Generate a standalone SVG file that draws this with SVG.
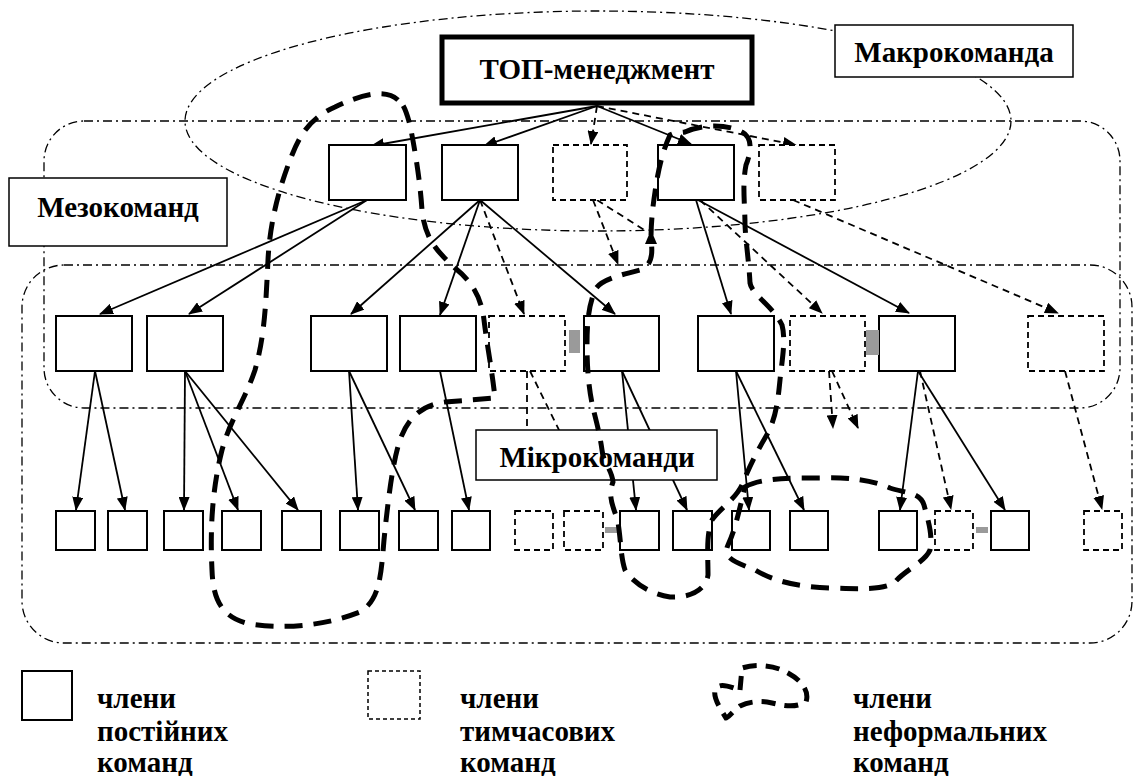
<svg xmlns="http://www.w3.org/2000/svg" width="1137" height="776" viewBox="0 0 1137 776">
<defs>
<style>
.sb{fill:#fff;stroke:#000;stroke-width:2}
.db{fill:#fff;stroke:#000;stroke-width:1.8;stroke-dasharray:6 4}
.dd{fill:none;stroke:#000;stroke-width:1.3;stroke-dasharray:9 4 2 4}
.ar{fill:none;stroke:#000;stroke-width:1.8;marker-end:url(#ah)}
.ard{fill:none;stroke:#000;stroke-width:1.8;stroke-dasharray:7 5;marker-end:url(#ah)}
.ln{fill:none;stroke:#000;stroke-width:1.8;stroke-dasharray:7 5}
.inf{fill:none;stroke:#000;stroke-width:5;stroke-dasharray:18 11;stroke-linecap:butt}
.lbl{fill:#fff;stroke:#000;stroke-width:1.5}
.t{font-family:"Liberation Serif","DejaVu Serif",serif;font-weight:bold;font-size:29px;fill:#000}
.lg{font-family:"Liberation Serif","DejaVu Serif",serif;font-weight:bold;font-size:29px;fill:#000}
.gr{fill:#9a9a9a}
</style>
<marker id="ah" viewBox="0 0 14 11" refX="13" refY="5.5" markerWidth="14" markerHeight="11" markerUnits="userSpaceOnUse" orient="auto"><path d="M0,0 L14,5.5 L0,11 z" fill="#000"/></marker>
</defs>
<rect width="1137" height="776" fill="#fff"/>

<g id="regions">
<ellipse class="dd" cx="598" cy="121" rx="413" ry="110"/>
<rect class="dd" x="44" y="121" width="1076" height="287" rx="40" ry="40"/>
<rect class="dd" x="22" y="265" width="1110" height="378" rx="42" ry="42"/>
</g>

<g id="connectors">
<line class="ar" x1="597" y1="106" x2="371" y2="146"/>
<line class="ar" x1="597" y1="106" x2="484" y2="146"/>
<line class="ard" x1="597" y1="106" x2="591" y2="144"/>
<line class="ar" x1="597" y1="106" x2="691" y2="144"/>
<line class="ard" x1="597" y1="106" x2="796" y2="145"/>
<line class="ar" x1="367" y1="200" x2="100" y2="314"/>
<line class="ar" x1="367" y1="200" x2="189" y2="314"/>
<line class="ar" x1="480" y1="200" x2="351" y2="314"/>
<line class="ar" x1="480" y1="200" x2="440" y2="315"/>
<line class="ard" x1="480" y1="200" x2="524" y2="314"/>
<line class="ar" x1="480" y1="200" x2="615" y2="314"/>
<line class="ard" x1="593" y1="200" x2="618" y2="264"/>
<line class="ln" x1="597" y1="200" x2="646" y2="231"/>
<line class="ar" x1="696" y1="200" x2="731" y2="314"/>
<line class="ard" x1="700" y1="200" x2="822" y2="313"/>
<line class="ar" x1="698" y1="200" x2="909" y2="313"/>
<line class="ard" x1="793" y1="200" x2="1058" y2="313"/>
<line class="ar" x1="95" y1="371" x2="76" y2="510"/>
<line class="ar" x1="95" y1="371" x2="125" y2="510"/>
<line class="ar" x1="185" y1="371" x2="184" y2="510"/>
<line class="ar" x1="185" y1="371" x2="238" y2="510"/>
<line class="ar" x1="185" y1="371" x2="298" y2="510"/>
<line class="ar" x1="349" y1="371" x2="358" y2="510"/>
<line class="ar" x1="349" y1="371" x2="415" y2="510"/>
<line class="ar" x1="440" y1="371" x2="469" y2="510"/>
<line class="ln" x1="527" y1="371" x2="527" y2="432"/>
<line class="ln" x1="530" y1="371" x2="560" y2="432"/>
<line class="ar" x1="622" y1="371" x2="636" y2="510"/>
<line class="ar" x1="622" y1="371" x2="687" y2="510"/>
<line class="ar" x1="736" y1="371" x2="749" y2="510"/>
<line class="ar" x1="736" y1="371" x2="804" y2="510"/>
<line class="ard" x1="829" y1="371" x2="833" y2="428"/>
<line class="ard" x1="832" y1="371" x2="858" y2="428"/>
<line class="ar" x1="918" y1="371" x2="900" y2="510"/>
<line class="ard" x1="920" y1="371" x2="951" y2="509"/>
<line class="ar" x1="918" y1="371" x2="1005" y2="510"/>
<line class="ard" x1="1065" y1="371" x2="1102" y2="509"/>
</g>

<g id="top"><rect x="442" y="37" width="310" height="66" fill="#fff" stroke="#000" stroke-width="5"/><text class="t" x="597" y="79" text-anchor="middle">ТОП-менеджмент</text></g>

<g id="l1-a"><rect class="sb" x="329" y="145" width="77" height="55"/></g>
<g id="l1-b"><rect class="sb" x="442" y="145" width="76" height="55"/></g>
<g id="l1-c"><rect class="db" x="553" y="145" width="74" height="55"/></g>
<g id="l1-d"><rect class="sb" x="658" y="145" width="76" height="55"/></g>
<g id="l1-e"><rect class="db" x="759" y="145" width="76" height="55"/></g>

<g id="m1"><rect class="sb" x="56" y="316" width="76" height="55"/></g>
<g id="m2"><rect class="sb" x="147" y="316" width="76" height="55"/></g>
<g id="m3"><rect class="sb" x="311" y="316" width="76" height="55"/></g>
<g id="m4"><rect class="sb" x="400" y="316" width="76" height="55"/></g>
<g id="m5"><rect class="db" x="489" y="316" width="76" height="55"/></g>
<g id="m6"><rect class="sb" x="584" y="316" width="75" height="55"/></g>
<g id="m7"><rect class="sb" x="698" y="316" width="76" height="55"/></g>
<g id="m8"><rect class="db" x="790" y="316" width="75" height="55"/></g>
<g id="m9"><rect class="sb" x="879" y="316" width="76" height="55"/></g>
<g id="m10"><rect class="db" x="1028" y="316" width="76" height="55"/></g>

<g id="b1"><rect class="sb" x="56" y="511" width="39" height="39"/></g>
<g id="b2"><rect class="sb" x="108" y="511" width="39" height="39"/></g>
<g id="b3"><rect class="sb" x="164" y="511" width="39" height="39"/></g>
<g id="b4"><rect class="sb" x="222" y="511" width="39" height="39"/></g>
<g id="b5"><rect class="sb" x="282" y="511" width="39" height="39"/></g>
<g id="b6"><rect class="sb" x="340" y="511" width="39" height="39"/></g>
<g id="b7"><rect class="sb" x="399" y="511" width="39" height="39"/></g>
<g id="b8"><rect class="sb" x="452" y="511" width="38" height="39"/></g>
<g id="b9"><rect class="db" x="515" y="511" width="38" height="39"/></g>
<g id="b10"><rect class="db" x="564" y="511" width="39" height="39"/></g>
<g id="b11"><rect class="sb" x="620" y="511" width="39" height="39"/></g>
<g id="b12"><rect class="sb" x="673" y="511" width="39" height="39"/></g>
<g id="b13"><rect class="sb" x="732" y="511" width="38" height="39"/></g>
<g id="b14"><rect class="sb" x="790" y="511" width="38" height="39"/></g>
<g id="b15"><rect class="sb" x="879" y="511" width="38" height="39"/></g>
<g id="b16"><rect class="db" x="935" y="511" width="38" height="39"/></g>
<g id="b17"><rect class="sb" x="991" y="511" width="38" height="39"/></g>
<g id="b18"><rect class="db" x="1084" y="511" width="38" height="39"/></g>

<g id="artifacts">
<rect class="gr" x="569" y="330" width="11" height="23"/>
<rect class="gr" x="866" y="330" width="13" height="25"/>
<rect class="gr" x="605" y="527" width="12" height="6"/>
<rect class="gr" x="976" y="527" width="12" height="6"/>
</g>

<g id="label-makro"><rect class="lbl" x="835" y="25" width="238" height="52"/><text class="t" x="954" y="62" text-anchor="middle">Макрокоманда</text></g>
<g id="label-mezo"><rect class="lbl" x="9" y="178" width="218" height="68"/><text class="t" x="118" y="217" text-anchor="middle">Мезокоманд</text></g>
<g id="label-mikro"><rect class="lbl" x="476" y="430" width="241" height="50"/><text class="t" x="597" y="467" text-anchor="middle">Мікрокоманди</text></g>

<g id="informal-1"><path class="inf" d="M398,100 C385,88 360,95 335,107 C310,118 300,135 292,155 C280,185 270,220 268,260 C266,300 265,335 255,370 C245,400 230,420 222,450 C212,490 210,530 212,570 C213,600 222,618 250,624 C290,630 330,624 360,612 C380,600 381,575 384,540 C388,500 393,460 400,440 C407,420 420,405 445,402 L495,398 C492,370 487,345 484,320 C481,295 470,280 455,268 C438,252 425,240 422,210 C420,180 415,150 410,125 C406,110 403,103 398,100 Z"/></g>
<g id="informal-2"><path class="inf" d="M685,132 C700,125 725,123 742,132 C752,137 752,150 746,165 C742,185 745,205 745,225 C746,245 749,262 750,283 C752,295 772,305 782,325 C786,340 782,360 780,380 C778,400 776,420 765,438 C755,455 748,470 742,485 C735,500 718,510 712,520 C706,535 708,555 708,575 C706,590 690,598 670,597 C650,594 632,582 625,570 C620,555 621,535 617,518 C612,505 608,495 613,482 C612,470 603,462 602,450 C600,435 596,420 593,408 C589,390 587,370 587,345 C587,320 589,305 595,290 C600,280 620,275 640,270 C652,265 653,255 651,240 C651,225 652,212 655,192 C658,170 663,150 670,135 C675,132 680,133 685,132 Z"/><path d="M645,244 L651,230 L657,244 Z" fill="#000"/></g>
<g id="informal-3"><path class="inf" d="M745,487 C760,478 790,478 820,478 C850,477 872,480 890,488 C905,493 920,492 924,505 C928,520 933,535 930,550 C925,562 905,570 895,582 C885,590 860,589 830,588 C800,587 775,582 755,570 C735,562 722,558 728,545 C735,530 738,515 745,487 Z"/></g>

<g id="legend">
<rect class="sb" x="22" y="671" width="50" height="49"/>
<text class="lg" x="97" y="708">члени</text>
<text class="lg" x="97" y="741">постійних</text>
<text class="lg" x="97" y="772">команд</text>
<rect fill="#fff" stroke="#000" stroke-width="1.5" stroke-dasharray="4 3" x="368" y="671" width="52" height="48"/>
<text class="lg" x="460" y="708">члени</text>
<text class="lg" x="460" y="741">тимчасових</text>
<text class="lg" x="460" y="772">команд</text>
<path class="inf" style="stroke-dasharray:14 9" d="M740,690 L742,668 C755,664 770,665 782,670 C800,678 810,690 806,702 C795,708 785,706 772,703 C760,700 748,702 740,706 C732,712 728,718 726,718 C718,705 712,695 716,688 C722,682 732,688 740,690 Z"/>
<text class="lg" x="853" y="708">члени</text>
<text class="lg" x="853" y="741">неформальних</text>
<text class="lg" x="853" y="772">команд</text>
</g>
</svg>
